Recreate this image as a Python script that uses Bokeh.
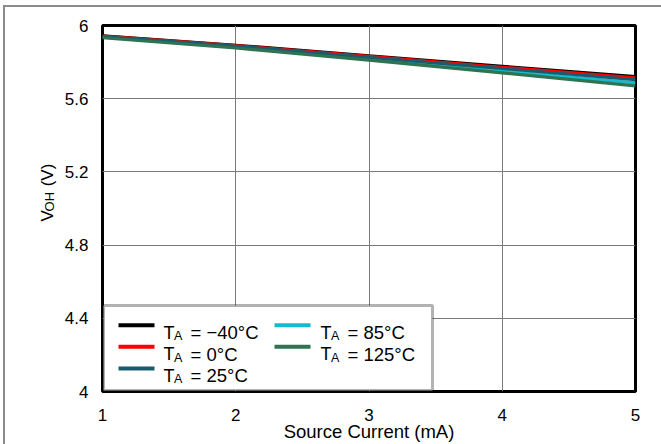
import math
from bokeh.plotting import figure
from bokeh.layouts import row
from bokeh.models import FixedTicker, BoxAnnotation, Label, Range1d
from bokeh.core.properties import value
from bokeh.embed import file_html
from bokeh.resources import INLINE

# ---- data ----
current_ma = [1, 2, 3, 4, 5]
temps_c = [-40, 0, 25, 85, 125]
voh_m40 = [5.943, 5.892, 5.834, 5.777, 5.721]
voh_0 = [5.942, 5.890, 5.831, 5.772, 5.714]
voh_25 = [5.940, 5.887, 5.826, 5.765, 5.704]
voh_85 = [5.937, 5.882, 5.818, 5.752, 5.686]
voh_125 = [5.933, 5.877, 5.811, 5.741, 5.670]
x_ticks = [1, 2, 3, 4, 5]
y_ticks = [4, 4.4, 4.8, 5.2, 5.6, 6]
legend_values = ["= \u221240\u00b0C", "= 0\u00b0C", "= 25\u00b0C", "= 85\u00b0C", "= 125\u00b0C"]
x_label = "Source Current (mA)"

series = [voh_m40, voh_0, voh_25, voh_85, voh_125]
colors = ["#000000", "#ff0000", "#1c5b6b", "#19b9cc", "#2e7352"]
FONT = "Liberation Sans"

H = 437      # total height
WL = 55      # width of y-title strip
W = 656 - WL

# ---- strip holding the y-axis title (with subscript) ----
ylab = figure(width=WL, height=H, output_backend="svg", toolbar_location=None,
              x_range=Range1d(0, WL), y_range=Range1d(0, H),
              x_axis_type=None, y_axis_type=None, min_border=0)
ylab.outline_line_color = None
ylab.grid.visible = False
ylab.background_fill_color = "white"
ylab.border_fill_color = "white"
ylab.text(x=[42], y=[203], text=["V"], angle=math.pi / 2, text_font=value(FONT),
          text_font_size="17px", text_baseline="alphabetic", text_align="left", text_color="black")
ylab.text(x=[43.5], y=[215], text=["OH"], angle=math.pi / 2, text_font=value(FONT),
          text_font_size="13px", text_baseline="alphabetic", text_align="left", text_color="black")
ylab.text(x=[42], y=[245], text=["(V)"], angle=math.pi / 2, text_font=value(FONT),
          text_font_size="17px", text_baseline="alphabetic", text_align="left", text_color="black")

# ---- main plot ----
p = figure(width=W, height=H, output_backend="svg", toolbar_location=None,
           x_range=Range1d(1, 5), y_range=Range1d(4, 6),
           min_border_left=97 - WL, min_border_right=26, min_border_top=18,
           min_border_bottom=51)
p.background_fill_color = "white"
p.border_fill_color = "white"
p.outline_line_color = "black"
p.outline_line_width = 3

p.xaxis.ticker = FixedTicker(ticks=x_ticks)
p.yaxis.ticker = FixedTicker(ticks=y_ticks)
p.yaxis.major_label_overrides = {t: ("%g" % t) for t in y_ticks}
p.xaxis.major_label_overrides = {t: ("%g" % t) for t in x_ticks}
for ax in (p.xaxis, p.yaxis):
    ax.major_tick_line_color = None
    ax.minor_tick_line_color = None
    ax.axis_line_color = None
    ax.major_label_text_font = FONT
    ax.major_label_text_font_size = "17px"
    ax.major_label_text_color = "black"
p.xaxis.major_label_standoff = 11
p.yaxis.major_label_standoff = 8
p.xaxis.axis_label = x_label
p.xaxis.axis_label_text_font = FONT
p.xaxis.axis_label_text_font_size = "18.5px"
p.xaxis.axis_label_text_font_style = "normal"
p.xaxis.axis_label_text_color = "black"
p.xaxis.axis_label_standoff = -3

for g in (p.xgrid, p.ygrid):
    g.grid_line_color = "#7a7a7a"
    g.grid_line_width = 1

# draw order (last on top)
for i in [0, 1, 3, 2, 4]:
    p.line(current_ma, series[i], line_color=colors[i], line_width=3.2)

# ---- legend (manual, for subscripts) ----
p.add_layout(BoxAnnotation(left=1, right=330, bottom=1, top=86,
                           left_units="screen", right_units="screen",
                           top_units="screen", bottom_units="screen",
                           fill_color="white", fill_alpha=1.0,
                           line_color="black", line_width=3))
col_line_x = [16, 172]
col_text_x = [61, 218]
row_center = [66.3, 44.7, 23.0]
row_base = [59.0, 37.5, 16.0]
for k, t in enumerate(temps_c):
    c, r = (0, k) if k < 3 else (1, k - 3)
    p.add_layout(BoxAnnotation(left=col_line_x[c], right=col_line_x[c] + 36,
                               bottom=row_center[r] - 2, top=row_center[r] + 2,
                               left_units="screen", right_units="screen",
                               top_units="screen", bottom_units="screen",
                               fill_color=colors[k], fill_alpha=1.0, line_color=None))
    tx = col_text_x[c]
    p.add_layout(Label(x=tx, y=row_base[r], x_units="screen", y_units="screen",
                       text="T", text_font=FONT, text_font_size="18px",
                       text_baseline="alphabetic", text_color="black"))
    p.add_layout(Label(x=tx + 10.5, y=row_base[r] - 3.5, x_units="screen", y_units="screen",
                       text="A", text_font=FONT, text_font_size="12.5px",
                       text_baseline="alphabetic", text_color="black"))
    p.add_layout(Label(x=tx + 27, y=row_base[r], x_units="screen", y_units="screen",
                       text=legend_values[k], text_font=FONT, text_font_size="18.5px",
                       text_baseline="alphabetic", text_color="black"))

lay = row(ylab, p)
lay.styles = {"margin-left": "3px", "margin-top": "5px",
              "border-top": "2px solid #8c8c8c", "border-left": "2px solid #8c8c8c"}

open("out.html", "w").write(file_html(lay, INLINE))
